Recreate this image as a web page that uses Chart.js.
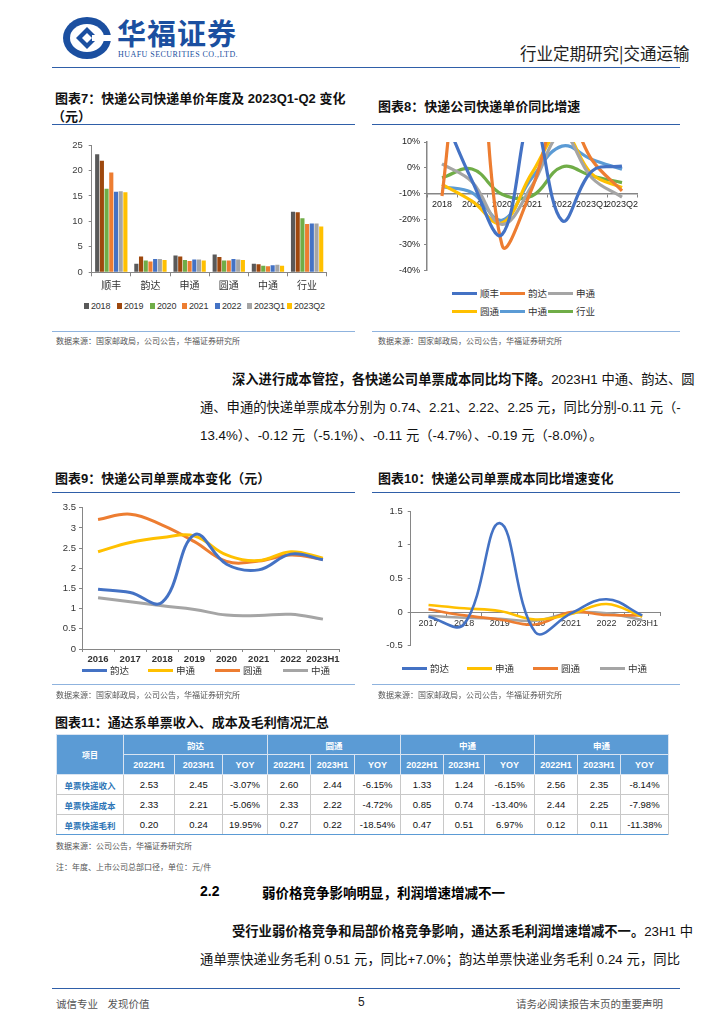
<!DOCTYPE html>
<html><head><meta charset="utf-8">
<script src="https://cdn.jsdelivr.net/npm/chart.js@4.4.0/dist/chart.umd.min.js"></script>
<style>
html,body{margin:0;padding:0;background:#fff}
body{width:724px;height:1024px;position:relative;overflow:hidden;font-family:"Liberation Sans","Noto Sans CJK SC",sans-serif;color:#000}
.a{position:absolute;white-space:nowrap}
.title{font-family:"Liberation Sans","Noto Sans CJK SC",sans-serif;font-weight:bold;font-size:13px;color:#111}
.rule{position:absolute;height:0;border-top:1.2px solid #2F5FA8}
.thin{position:absolute;height:0;border-top:1px solid #8FB3DE}
.src{font-family:"Noto Sans CJK SC",sans-serif;font-size:8px;color:#555}
.para{position:absolute;font-size:13.3px;font-family:"Liberation Sans","Noto Sans CJK SC",sans-serif;color:#111}
.para div{white-space:nowrap;text-align:justify;text-align-last:justify;height:28px;line-height:28px}
.para div.last{text-align-last:left}
.leg{position:absolute;font-family:"Noto Sans CJK SC",sans-serif;font-size:9.5px;color:#333;line-height:12px}
.leg i{position:absolute;display:block}
canvas{position:absolute}
table{position:absolute;border-collapse:collapse;table-layout:fixed}
td{border:1px solid #C8C8C8;text-align:center;font-size:9.5px;padding:0;height:19px;color:#111}
td.h{background:#5B9BD5;color:#fff;font-weight:bold;border-color:#D9E4F1;font-size:9px}
td.lab{color:#2E75B6;font-family:"Noto Sans CJK SC",sans-serif;font-size:8.5px;font-weight:bold}
</style></head>
<body>
<!-- header -->
<svg class="a" style="left:62px;top:16px" width="52" height="44" viewBox="0 0 52 44">
  <ellipse cx="25" cy="22" rx="24" ry="21" fill="#1B4FA0"/>
  <ellipse cx="25" cy="22" rx="17" ry="14" fill="#fff"/>
  <path d="M25 11 L36 22 L25 33 L14 22 Z" fill="#1B4FA0"/>
  <path d="M25 17 L30 22 L25 27 L20 22 Z" fill="#fff"/>
  <rect x="30" y="19" width="20" height="6" fill="#fff"/>
</svg>
<div class="a" style="left:117px;top:11px;font-size:29px;font-weight:bold;color:#1B4FA0;font-family:'Noto Sans CJK SC',sans-serif;letter-spacing:1px">华福证券</div>
<div class="a" style="left:118px;top:50px;font-size:8px;color:#1B4FA0;font-family:'Liberation Serif',serif;letter-spacing:0.45px">HUAFU SECURITIES CO.,LTD.</div>
<div class="a" style="left:520px;top:41px;font-size:16.5px;color:#222;font-family:'Noto Sans CJK SC',sans-serif">行业定期研究|交通运输</div>
<div class="rule" style="left:52px;top:67px;width:628px;border-top-width:1.5px"></div>

<!-- titles 7/8 -->
<div class="a title" style="left:55px;top:88px">图表7：快递公司快递单价年度及 2023Q1-Q2 变化</div>
<div class="a title" style="left:52px;top:106px">（元）</div>
<div class="rule" style="left:52px;top:124px;width:303px"></div>
<div class="a title" style="left:378px;top:96px">图表8：快递公司快递单价同比增速</div>
<div class="rule" style="left:372px;top:124px;width:308px"></div>

<canvas id="c7" width="290" height="168" style="left:50px;top:130px;width:290px;height:168px"></canvas>
<div id="l7"></div>
<canvas id="c8" width="290" height="150" style="left:380px;top:130px;width:290px;height:150px"></canvas>
<div id="l8"></div>

<div class="thin" style="left:52px;top:331px;width:303px"></div>
<div class="thin" style="left:372px;top:331px;width:308px"></div>
<div class="a src" style="left:56px;top:335px">数据来源：国家邮政局，公司公告，华福证券研究所</div>
<div class="a src" style="left:378px;top:335px">数据来源：国家邮政局，公司公告，华福证券研究所</div>

<div class="para" style="left:200px;top:366px;width:480px">
  <div style="padding-left:32px"><b>深入进行成本管控，各快递公司单票成本同比均下降。</b>2023H1 中通、韵达、圆</div>
  <div>通、申通的快递单票成本分别为 0.74、2.21、2.22、2.25 元，同比分别-0.11 元（-</div>
  <div class="last">13.4%）、-0.12 元（-5.1%）、-0.11 元（-4.7%）、-0.19 元（-8.0%）。</div>
</div>

<div class="a title" style="left:55px;top:468px">图表9：快递公司单票成本变化（元）</div>
<div class="rule" style="left:52px;top:492px;width:303px"></div>
<div class="a title" style="left:378px;top:468px">图表10：快递公司单票成本同比增速变化</div>
<div class="rule" style="left:372px;top:492px;width:308px"></div>

<canvas id="c9" width="292" height="170" style="left:50px;top:495px;width:292px;height:170px"></canvas>
<div id="l9"></div>
<canvas id="c10" width="300" height="165" style="left:370px;top:495px;width:300px;height:165px"></canvas>
<div id="l10"></div>

<div class="thin" style="left:52px;top:684px;width:303px"></div>
<div class="thin" style="left:372px;top:684px;width:308px"></div>
<div class="a src" style="left:56px;top:689px">数据来源：国家邮政局，公司公告，华福证券研究所</div>
<div class="a src" style="left:378px;top:689px">数据来源：国家邮政局，公司公告，华福证券研究所</div>

<div class="a title" style="left:55px;top:712px">图表11：通达系单票收入、成本及毛利情况汇总</div>
<table id="tbl" style="left:56px;top:734px;width:612px"></table>
<div class="thin" style="left:56px;top:834px;width:612px;border-top:1.5px solid #5B9BD5"></div>

<div class="a src" style="left:56px;top:840px">数据来源：公司公告，华福证券研究所</div>
<div class="a src" style="left:56px;top:861px">注：年度、上市公司总部口径，单位：元/件</div>

<div class="a" style="left:200px;top:883px;font-size:14px;font-weight:bold">2.2</div>
<div class="a" style="left:262px;top:882px;font-size:13.5px;font-weight:bold;font-family:'Noto Sans CJK SC',sans-serif">弱价格竞争影响明显，利润增速增减不一</div>

<div class="para" style="left:200px;top:918px;width:480px">
  <div style="padding-left:32px"><b>受行业弱价格竞争和局部价格竞争影响，通达系毛利润增速增减不一。</b>23H1 中</div>
  <div>通单票快递业务毛利 0.51 元，同比+7.0%；韵达单票快递业务毛利 0.24 元，同比</div>
</div>

<div class="rule" style="left:52px;top:988px;width:628px;border-top-width:1.5px"></div>
<div class="a" style="left:56px;top:996px;font-size:10.5px;color:#555;font-family:'Noto Sans CJK SC',sans-serif">诚信专业&nbsp;&nbsp;&nbsp;&nbsp;发现价值</div>
<div class="a" style="left:358px;top:995px;font-size:12px;color:#222">5</div>
<div class="a" style="left:516px;top:996px;font-size:10.5px;color:#555;font-family:'Noto Sans CJK SC',sans-serif">请务必阅读报告末页的重要声明</div>

<script>
// ---------------- DATA ----------------
// Chart 7
const c7Categories = ['顺丰','韵达','申通','圆通','中通','行业'];
const c7SeriesNames = ['2018','2019','2020','2021','2022','2023Q1','2023Q2'];
const c7_2018   = [23.2, 1.7, 3.3, 3.5, 1.7, 11.9];
const c7_2019   = [21.9, 3.1, 3.1, 3.0, 1.6, 11.8];
const c7_2020   = [16.4, 2.3, 2.4, 2.3, 1.3, 10.6];
const c7_2021   = [19.6, 2.1, 2.2, 2.3, 1.2, 9.5];
const c7_2022   = [15.8, 2.6, 2.5, 2.6, 1.4, 9.6];
const c7_2023Q1 = [15.9, 2.6, 2.5, 2.5, 1.5, 9.6];
const c7_2023Q2 = [15.7, 2.4, 2.3, 2.4, 1.3, 9.0];
const c7Ticks = [0, 5, 10, 15, 20, 25];

// Chart 8 (%)
const c8Categories = ['2018','2019','2020','2021','2022','2023Q1','2023Q2'];
const c8SeriesNames = ['顺丰','韵达','申通','圆通','中通','行业'];
const c8SF = [22, -5, -26, 20, -20.5, -1.3, 0.6];
const c8YD = [-11, 82, -30, -8, 24, 3, -9];
const c8ST = [1.5, -5.5, -22, -7, 13, -4, -11.4];
const c8YT = [-6.5, -13, -21.5, -2, 14, -2.5, -7.7];
const c8ZT = [-7.4, -9.7, -20.4, -3.9, 8.4, 3.2, -0.6];
const c8HY = [-3.9, -0.5, -10.3, -11, 0.3, -3.2, -5.8];
const c8Ticks = [10, 0, -10, -20, -30, -40];

// Chart 9 (元)
const c9Categories = ['2016','2017','2018','2019','2020','2021','2022','2023H1'];
const c9SeriesNames = ['韵达','申通','圆通','中通'];
const c9YD = [1.48, 1.40, 1.16, 2.83, 2.10, 1.96, 2.35, 2.21];
const c9ST = [2.41, 2.64, 2.76, 2.80, 2.33, 2.19, 2.41, 2.25];
const c9YT = [3.21, 3.34, 3.07, 2.66, 2.17, 2.18, 2.33, 2.22];
const c9ZT = [1.27, 1.17, 1.07, 0.98, 0.84, 0.83, 0.86, 0.74];
const c9Ticks = [0, 0.5, 1, 1.5, 2, 2.5, 3, 3.5];

// Chart 10
const c10Categories = ['2017','2018','2019','2020','2021','2022','2023H1'];
const c10SeriesNames = ['韵达','申通','圆通','中通'];
const c10YD = [-0.07, -0.18, 1.32, -0.30, -0.02, 0.19, -0.05];
const c10ST = [0.105, 0.055, 0.015, -0.11, -0.03, 0.12, -0.07];
const c10YT = [0.04, -0.05, -0.11, -0.185, 0.0, -0.045, -0.05];
const c10ZT = [-0.055, -0.085, -0.10, -0.13, -0.01, -0.02, -0.12];
const c10Ticks = [-0.5, 0, 0.5, 1, 1.5];

// Table 11
const t11Companies = ['韵达','圆通','中通','申通'];
const t11Periods = ['2022H1','2023H1','YOY'];
const t11RowNames = ['单票快递收入','单票快递成本','单票快递毛利'];
const t11Revenue = ['2.53','2.45','-3.07%','2.60','2.44','-6.15%','1.33','1.24','-6.15%','2.56','2.35','-8.14%'];
const t11Cost    = ['2.33','2.21','-5.06%','2.33','2.22','-4.72%','0.85','0.74','-13.40%','2.44','2.25','-7.98%'];
const t11Profit  = ['0.20','0.24','19.95%','0.27','0.22','-18.54%','0.47','0.51','6.97%','0.12','0.11','-11.38%'];

// ---------------- STYLES ----------------
const AX = '#868686';
const TXT = '#404040';
const c7Colors = ['#595959','#9E480E','#70AD47','#ED7D31','#4472C4','#A5A5A5','#FFC000'];
const c8Colors = ['#4472C4','#ED7D31','#A5A5A5','#FFC000','#5B9BD5','#70AD47'];
const c9Colors = ['#4472C4','#FFC000','#ED7D31','#A5A5A5'];

Chart.defaults.font.family = '"Liberation Sans","Noto Sans CJK SC",sans-serif';
Chart.defaults.color = TXT;
Chart.defaults.animation = false;

function fixW(w){ return s => { s.width = w; }; }
function fixH(h){ return s => { s.height = h; }; }
const noPlugins = { legend:{display:false}, tooltip:{enabled:false} };

// Chart 7
const c7Data = [c7_2018,c7_2019,c7_2020,c7_2021,c7_2022,c7_2023Q1,c7_2023Q2];
new Chart(document.getElementById('c7'), {
  type:'bar',
  data:{ labels:c7Categories, datasets:c7Data.map((d,i)=>({label:c7SeriesNames[i], data:d, backgroundColor:c7Colors[i], borderWidth:0})) },
  options:{
    responsive:false, plugins:noPlugins,
    datasets:{bar:{barPercentage:0.88, categoryPercentage:0.84}},
    layout:{padding:{left:0, top:15, right:13.3, bottom:0}},
    scales:{
      x:{ afterFit:fixH(25.7), border:{color:AX}, grid:{offset:true, drawOnChartArea:false, drawTicks:true, tickLength:4, color:AX},
          ticks:{padding:3, font:{size:10, family:'"Noto Sans CJK SC",sans-serif'}, color:'#333'} },
      y:{ min:0, max:25, afterFit:fixW(41.7), border:{color:AX}, grid:{drawOnChartArea:false, tickLength:3, color:AX},
          afterBuildTicks: s => { s.ticks = c7Ticks.map(v=>({value:v})); },
          ticks:{padding:6, font:{size:9.5}} }
    }
  }
});

// Chart 8
const c8Data = [c8SF,c8YD,c8ST,c8YT,c8ZT,c8HY];
new Chart(document.getElementById('c8'), {
  type:'line',
  data:{ labels:c8Categories, datasets:c8Data.map((d,i)=>({label:c8SeriesNames[i], data:d, borderColor:c8Colors[i], borderWidth:3.2, pointRadius:0, tension:0.4, fill:false})) },
  options:{
    responsive:false, plugins:noPlugins,
    elements:{line:{capBezierPoints:false}},
    layout:{padding:{left:0, top:12, right:33, bottom:9}},
    scales:{
      x:{ position:{y:-10}, offset:true, border:{color:AX, width:1.5}, grid:{offset:true, drawOnChartArea:false, tickLength:3, color:AX},
          ticks:{padding:3, autoSkip:false, maxRotation:0, minRotation:0, font:{size:9}, color:'#222'} },
      y:{ min:-40, max:10, afterFit:fixW(47), border:{color:AX, width:1.5}, grid:{drawOnChartArea:false, tickLength:3, color:AX},
          afterBuildTicks: s => { s.ticks = c8Ticks.map(v=>({value:v})); },
          ticks:{padding:4, font:{size:9}, color:'#222', callback:v=>v+'%'} }
    }
  }
});

// Chart 9
const c9Data = [c9YD,c9ST,c9YT,c9ZT];
new Chart(document.getElementById('c9'), {
  type:'line',
  data:{ labels:c9Categories, datasets:c9Data.map((d,i)=>({label:c9SeriesNames[i], data:d, borderColor:c9Colors[i], borderWidth:3, pointRadius:0, tension:0.4, fill:false})) },
  options:{
    responsive:false, plugins:noPlugins,
    elements:{line:{capBezierPoints:false}},
    layout:{padding:{left:0, top:12.7, right:3, bottom:0}},
    scales:{
      x:{ offset:true, afterFit:fixH(16), border:{color:AX}, grid:{offset:true, drawOnChartArea:false, tickLength:3, color:AX},
          ticks:{padding:2, autoSkip:false, maxRotation:0, minRotation:0, font:{size:9.5, weight:'bold'}, color:'#333'} },
      y:{ min:0, max:3.5, afterFit:fixW(32), border:{color:AX}, grid:{drawOnChartArea:false, tickLength:3, color:AX},
          afterBuildTicks: s => { s.ticks = c9Ticks.map(v=>({value:v})); },
          ticks:{padding:3, font:{size:9.5}, color:'#333', callback:v=>String(v)} }
    }
  }
});

// Chart 10
const c10Data = [c10YD,c10ST,c10YT,c10ZT];
new Chart(document.getElementById('c10'), {
  type:'line',
  data:{ labels:c10Categories, datasets:c10Data.map((d,i)=>({label:c10SeriesNames[i], data:d, borderColor:c9Colors[i], borderWidth:2.6, pointRadius:0, tension:0.4, fill:false})) },
  options:{
    responsive:false, plugins:noPlugins,
    elements:{line:{capBezierPoints:false}},
    layout:{padding:{left:0, top:16, right:10, bottom:14.3}},
    scales:{
      x:{ position:{y:0}, offset:true, border:{color:AX}, grid:{offset:true, drawOnChartArea:false, tickLength:3, color:AX},
          ticks:{padding:3, autoSkip:false, maxRotation:0, minRotation:0, font:{size:9}, color:'#333'} },
      y:{ min:-0.5, max:1.5, afterFit:fixW(40.7), border:{color:AX}, grid:{drawOnChartArea:false, tickLength:3, color:AX},
          afterBuildTicks: s => { s.ticks = c10Ticks.map(v=>({value:v})); },
          ticks:{padding:5, font:{size:9.5}, color:'#333', callback:v=>String(v)} }
    }
  }
});

// ---------------- LEGENDS (HTML) ----------------
function legend(id, names, colors, pos, kind){
  const box = document.getElementById(id);
  names.forEach((n,i)=>{
    const p = pos[i];
    const el = document.createElement('div');
    el.className = 'leg';
    el.style.left = p[0]+'px'; el.style.top = p[1]+'px';
    const mark = document.createElement('i');
    if(kind==='sq'){
      mark.style.cssText = 'left:0;top:3px;width:5px;height:6px;background:'+colors[i];
      el.style.paddingLeft = '7px';
      el.style.fontFamily='"Liberation Sans",sans-serif'; el.style.fontSize='9px'; el.style.letterSpacing='-0.2px';
    } else {
      mark.style.cssText = 'left:0;top:4.5px;width:25px;height:3px;background:'+colors[i];
      el.style.paddingLeft = '28px';
    }
    el.appendChild(mark);
    el.appendChild(document.createTextNode(n));
    box.appendChild(el);
  });
}
legend('l7', c7SeriesNames, c7Colors, [[84,300],[117,300],[150,300],[182,300],[215,300],[247,300],[287,300]], 'sq');
legend('l8', c8SeriesNames, c8Colors, [[452,287],[500,287],[548,287],[452,305],[500,305],[548,305]], 'ln');
legend('l9', c9SeriesNames, c9Colors, [[82,664],[148,664],[215,664],[283,664]], 'ln');
legend('l10', c10SeriesNames, c9Colors, [[402,662],[467,662],[533,662],[600,662]], 'ln');

// ---------------- TABLE ----------------
(function(){
  const t = document.getElementById('tbl');
  const widths = [67, 51, 48, 45, 43, 44, 46, 43, 41, 50, 43, 43, 48];
  let html = '<colgroup>' + widths.map(w=>'<col style="width:'+w+'px">').join('') + '</colgroup>';
  html += '<tr><td class="h" rowspan="2" style="font-family:\'Noto Sans CJK SC\',sans-serif;font-size:8px">项目</td>' +
    t11Companies.map(c=>'<td class="h" colspan="3" style="font-family:\'Noto Sans CJK SC\',sans-serif;font-size:8.5px">'+c+'</td>').join('') + '</tr>';
  html += '<tr>' + t11Companies.map(()=>t11Periods.map(p=>'<td class="h">'+p+'</td>').join('')).join('') + '</tr>';
  [t11Revenue, t11Cost, t11Profit].forEach((row,r)=>{
    html += '<tr style="height:20px"><td class="lab">'+t11RowNames[r]+'</td>' + row.map(v=>'<td>'+v+'</td>').join('') + '</tr>';
  });
  t.innerHTML = html;
})();
</script>
</body></html>
